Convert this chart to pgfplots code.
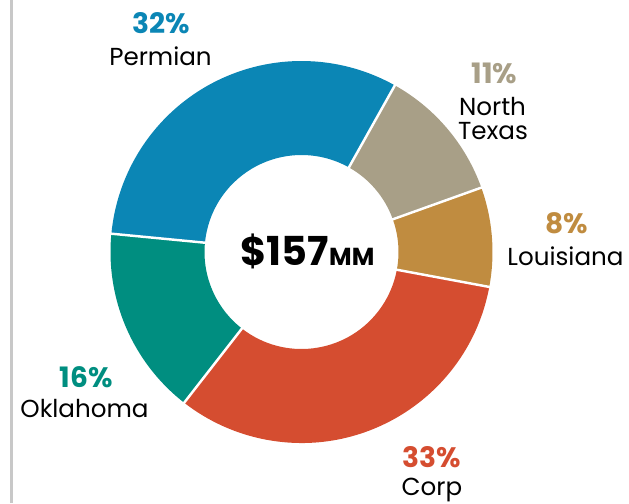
\documentclass[border=0pt]{standalone}
\usepackage{fontspec}
\setmainfont{Poppins}
\usepackage{pgfplots}
\usepackage{pgfplotstable}
\pgfplotsset{compat=1.18}
\usetikzlibrary{calc}
\definecolor{cPerm}{HTML}{0B86B5}
\definecolor{cNT}{HTML}{A89F87}
\definecolor{cLou}{HTML}{C08C40}
\definecolor{cCorp}{HTML}{D54D30}
\definecolor{cOkla}{HTML}{008E80}
\definecolor{cGrid}{HTML}{C8C8C8}
\pgfplotstableread{
name value
Permian 31.6
NorthTexas 11.4
Louisiana 8.4
Corp 32.6
Oklahoma 16.0
}\shares
\newcommand\wedgeseg[3]{%
  \fill[#3] ($(C)+(#1:3.82cm)$) arc[start angle=#1,end angle=#2,radius=3.82cm]
    -- ($(C)+(#2:1.94cm)$) arc[start angle=#2,end angle=#1,radius=1.94cm] -- cycle;}
\newcommand\sepline[1]{%
  \draw[white,line width=1.4pt] ($(C)+(#1:1.85cm)$) -- ($(C)+(#1:3.95cm)$);}
\begin{document}
\begin{tikzpicture}
\useasboundingbox (0,0) rectangle (12.58,10.06);
\clip (0,0) rectangle (12.58,10.06);
\pgfplotstablegetelem{0}{value}\of\shares \let\vA\pgfplotsretval
\pgfplotstablegetelem{1}{value}\of\shares \let\vB\pgfplotsretval
\pgfplotstablegetelem{2}{value}\of\shares \let\vC\pgfplotsretval
\pgfplotstablegetelem{3}{value}\of\shares \let\vD\pgfplotsretval
\pgfplotstablegetelem{4}{value}\of\shares \let\vE\pgfplotsretval
\pgfmathsetmacro\aA{174.5}
\pgfmathsetmacro\aB{\aA-3.6*\vA}
\pgfmathsetmacro\aC{\aB-3.6*\vB}
\pgfmathsetmacro\aD{\aC-3.6*\vC}
\pgfmathsetmacro\aE{\aD-3.6*\vD}
\pgfmathsetmacro\aF{\aE-3.6*\vE}
\begin{axis}[x=1cm,y=1cm,xmin=0,xmax=12.58,ymin=0,ymax=10.06,
  hide axis,anchor=origin,at={(0,0)},clip=false]
\addplot[draw=none,forget plot] coordinates {(6.03,5.02)};
\coordinate (C) at (axis cs:6.03,5.02);
\wedgeseg{\aA}{\aB}{cPerm}
\wedgeseg{\aB}{\aC}{cNT}
\wedgeseg{\aC}{\aD}{cLou}
\wedgeseg{\aD}{\aE}{cCorp}
\wedgeseg{\aE}{\aF}{cOkla}
\sepline{\aA}\sepline{\aB}\sepline{\aC}\sepline{\aD}\sepline{\aE}
\draw[cGrid,line width=1.2pt] (axis cs:0.23,0) -- (axis cs:0.23,10.06);
% percentages
\node[anchor=base,text=cPerm,font=\fontsize{16}{16}\selectfont\bfseries,inner sep=0pt] at (axis cs:3.23,9.40) {32\%};
\node[anchor=base,font=\fontsize{14}{14}\selectfont,inner sep=0pt] at (axis cs:3.21,8.76) {Permian};
\node[anchor=base,text=cNT,font=\fontsize{16}{16}\selectfont\bfseries,inner sep=0pt] at (axis cs:9.89,8.40) {11\%};
\node[anchor=base,font=\fontsize{14}{14}\selectfont,inner sep=0pt] at (axis cs:9.85,7.76) {North};
\node[anchor=base,font=\fontsize{14}{14}\selectfont,inner sep=0pt] at (axis cs:9.86,7.28) {Texas};
\node[anchor=base,text=cLou,font=\fontsize{16}{16}\selectfont\bfseries,inner sep=0pt] at (axis cs:11.33,5.40) {8\%};
\node[anchor=base,font=\fontsize{14}{14}\selectfont,inner sep=0pt] at (axis cs:11.31,4.76) {Louisiana};
\node[anchor=base,text=cOkla,font=\fontsize{16}{16}\selectfont\bfseries,inner sep=0pt] at (axis cs:1.72,2.32) {16\%};
\node[anchor=base,font=\fontsize{14}{14}\selectfont,inner sep=0pt] at (axis cs:1.69,1.72) {Oklahoma};
\node[anchor=base,text=cCorp,font=\fontsize{16}{16}\selectfont\bfseries,inner sep=0pt] at (axis cs:8.63,0.72) {33\%};
\node[anchor=base,font=\fontsize{14}{14}\selectfont,inner sep=0pt] at (axis cs:8.64,0.16) {Corp};
\node[anchor=base,font=\fontsize{22.7}{24}\selectfont\bfseries,inner sep=0pt] at (axis cs:6.15,4.76) {\$157{\fontsize{14}{14}\selectfont MM}};
\end{axis}
\end{tikzpicture}
\end{document}
